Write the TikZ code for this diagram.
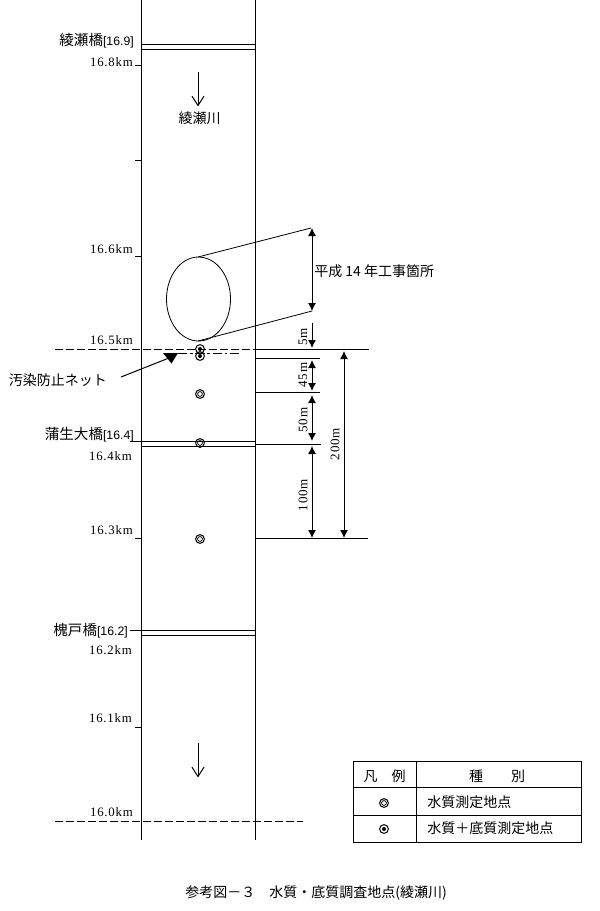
\documentclass[tikz,border=0pt]{standalone}
\usepackage{fontspec}
\setmainfont{Noto Sans CJK JP}
\newfontfamily\latinlabel[LetterSpace=6]{Liberation Serif}
\newfontfamily\brackettext{Liberation Sans}
\usetikzlibrary{arrows.meta}
\tikzset{
  x=0.75pt,y=-0.75pt,
  line/.style={line width=0.75pt,black},
  thin line/.style={line width=0.6pt,black},
  dim/.style={line width=0.75pt,black,{Latex[length=6pt,width=6pt]}-{Latex[length=6pt,width=6pt]}},
  dimdown/.style={line width=0.75pt,black,-{Latex[length=6pt,width=6pt]}},
  flow/.style={line width=0.75pt,black,-{Straight Barb[length=7pt,width=9pt,round]}},
  longdash/.style={line width=0.75pt,black,dash pattern=on 6pt off 2.25pt},
  kanji/.style={inner sep=0pt,font=\fontsize{10.5pt}{12pt}\selectfont},
  bridge/.style={inner sep=0pt,anchor=east,font=\fontsize{10.9pt}{12pt}\selectfont},
  km/.style={inner sep=0pt,anchor=east,font=\fontsize{9.6pt}{11pt}\latinlabel},
  dimtext/.style={inner sep=0pt,rotate=90,font=\fontsize{9.8pt}{11pt}\latinlabel},
  waterpt/.pic={\draw[line] (0,0) circle[radius=4.4]; \draw[thin line] (0,0) circle[radius=2.4];},
  bothpt/.pic={\draw[line] (0,0) circle[radius=4.4]; \fill (0,0) circle[radius=2];},
}
\newcommand{\brk}[1]{{\fontsize{9.2pt}{11pt}\brackettext #1}}
\begin{document}
\begin{tikzpicture}
\useasboundingbox (0,0) rectangle (600,911);
\fill[white] (0,0) rectangle (600,911);

% river banks
\coordinate (LT) at (141,0); \coordinate (LB) at (141,840);
\coordinate (RT) at (255,0); \coordinate (RB) at (255,840);
\draw[line] (LT) -- (LB);
\draw[line] (RT) -- (RB);

% bridges
\draw[line] (141,44) coordinate (b1a) -- (255,44) coordinate (b1b);
\draw[line] (141,49) coordinate (b1c) -- (255,49) coordinate (b1d);
\draw[line] (130,441) coordinate (b2a) -- (255,441) coordinate (b2b);
\draw[line] (141,446) coordinate (b2c) -- (255,446) coordinate (b2d);
\draw[line] (130,630) coordinate (b3a) -- (255,630) coordinate (b3b);
\draw[line] (141,635) coordinate (b3c) -- (255,635) coordinate (b3d);
\node[bridge] (n1) at (134,40.5) {綾瀬橋\brk{[16.9]}};
\node[bridge] (n2) at (134,434.5) {蒲生大橋\brk{[16.4]}};
\node[bridge] (n3) at (128,630.5) {槐戸橋\brk{[16.2]}};

% kilometre posts
\foreach \yy in {65,160,256,538,727} \draw[line] (135,\yy) -- (141,\yy);
\node[km] (k168) at (133,62.5) {16.8km};
\node[km] (k166) at (133,249) {16.6km};
\node[km] (k165) at (133,340) {16.5km};
\node[km] (k164) at (132,456) {16.4km};
\node[km] (k163) at (133,530) {16.3km};
\node[km] (k162) at (132,650) {16.2km};
\node[km] (k161) at (132,718) {16.1km};
\node[km] (k160) at (133,812) {16.0km};

% flow direction
\coordinate (f1a) at (198,72); \coordinate (f1b) at (198,106);
\coordinate (f2a) at (198,743); \coordinate (f2b) at (198,777);
\draw[flow] (f1a) -- (f1b);
\draw[flow] (f2a) -- (f2b);
\node[kanji] (rv) at (199.5,118) {綾瀬川};

% works section
\draw[thin line] (198.5,299) circle[x radius=32,y radius=42];
\coordinate (e1) at (198,257); \coordinate (e2) at (198,341);
\coordinate (w1) at (311,228); \coordinate (w2) at (312,311);
\draw[thin line] (e1) -- (w1);
\draw[thin line] (e2) -- (w2);
\draw[dim] (312,228) -- (312,311);
\node[kanji,anchor=west] (wk) at (314,271) {平成 14 年工事箇所};

% survey section lines
\draw[longdash] (55,349) coordinate (s1) -- (255,349) coordinate (s2);
\draw[line] (s2) -- (369,349);
\draw[line] (255,358) -- (320,358);
\draw[line] (255,392) -- (320,392);
\draw[line] (255,444) -- (321,444);
\draw[line] (255,538) -- (368,538);
\draw[longdash] (55,821) coordinate (s3) -- (303,821) coordinate (s4);

% dimension arrows
\draw[dimdown] (312,323) -- (312,348);
\draw[dim] (312,360) -- (312,391);
\draw[dim] (312,395) -- (312,441);
\draw[dim] (312,446) -- (312,538);
\draw[dim] (344,351) -- (344,538);
\node[dimtext] (d5) at (303,337) {5m};
\node[dimtext] (d45) at (303,375) {45m};
\node[dimtext] (d50) at (303,420) {50m};
\node[dimtext] (d100) at (303,495) {100m};
\node[dimtext] (d200) at (335,444) {200m};

% pollution net
\draw[thin line,dash pattern=on 7pt off 2pt on 2pt off 2pt] (178,353) coordinate (nt1) -- (240,353) coordinate (nt2);
\coordinate (na) at (121,377);
\coordinate (nb) at (169,358);
\draw[line] (na) -- (nb);
\fill (163,353) -- (178,353) -- (171.5,363.5) -- cycle;
\node[kanji,anchor=west] (nl) at (8.5,380) {汚染防止ネット};

% measuring points
\pic at (200,349) {bothpt};
\pic at (200,356) {bothpt};
\pic at (200,394) {waterpt};
\pic at (200,443) {waterpt};
\pic at (200,539) {waterpt};

% legend
\draw[line] (353,761) rectangle (581,842);
\draw[line] (416,761) -- (416,842);
\draw[line] (353,787) -- (581,787);
\draw[line] (353,815) -- (581,815);
\node[kanji] (lg1) at (384.5,776) {凡\hspace{1em}例};
\node[kanji] (lg2) at (497,776) {種\hspace{2em}別};
\pic at (384,803) {waterpt};
\pic at (384,829) {bothpt};
\node[kanji,anchor=west] (lg3) at (427,802.5) {水質測定地点};
\node[kanji,anchor=west] (lg4) at (427,828) {水質＋底質測定地点};

% caption
\node[kanji,anchor=west] (cap) at (185,893) {参考図－３\hspace{1em}水質・底質調査地点(綾瀬川)};
\end{tikzpicture}
\end{document}
